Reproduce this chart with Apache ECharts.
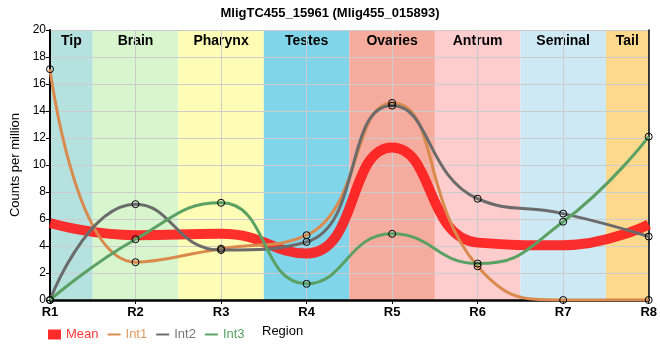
<!DOCTYPE html>
<html><head><meta charset="utf-8">
<script src="https://cdn.jsdelivr.net/npm/echarts@6/dist/echarts.min.js"></script>
<style>html,body{margin:0;padding:0;background:#fff}#c{width:660px;height:360px}</style>
</head><body><div id="c"></div>
<script>
const regions = ['R1','R2','R3','R4','R5','R6','R7','R8'];
const bandNames = ['Tip','Brain','Pharynx','Testes','Ovaries','Antrum','Seminal','Tail'];
const bandColors = ['#b5e2df','#d7f6cd','#fdfdb5','#80d5eb','#f5ac9f','#fdcccd','#cdeaf4','#fdd98d'];
const meanVals = [5.7, 4.8, 4.9, 3.45, 11.3, 4.25, 4.05, 5.6];
const int1Vals = [17.1, 2.8, 3.8, 4.8, 14.6, 2.5, 0, 0];
const int2Vals = [0, 7.1, 3.7, 4.3, 14.4, 7.5, 6.4, 4.7];
const int3Vals = [0, 4.5, 7.2, 1.2, 4.9, 2.7, 5.8, 12.1];
const yTicks = [0,2,4,6,8,10,12,14,16,18,20];

const SANS = "'Liberation Sans', Arial, sans-serif";
const toPts = a => a.map((v,i)=>[i,v]);
const last = regions.length - 1;

const bands = bandNames.map((n,i)=>[
  {name:n, xAxis: Math.max(0,i-0.5), itemStyle:{color:bandColors[i]}},
  {xAxis: Math.min(last,i+0.5)}
]);

const marker = {color:'rgba(255,255,255,0)', borderColor:'#000', borderWidth:1};
const lineIcon = 'path://M0,0 L0,0 M0,4 L20,4 L20,7 L0,7 Z M20,11 L20,11';
const legIcon = c => ({color:c, borderColor:c, borderWidth:0});

const chart = echarts.init(document.getElementById('c'));
chart.setOption({
  animation:false,
  title:{text:'MligTC455_15961 (Mlig455_015893)', left:'center', top:2,
    textStyle:{fontFamily:SANS, fontSize:13, fontWeight:'bold', color:'#000'}},
  grid:{left:50, right:10, top:30, bottom:60},
  legend:{left:43, top:323, itemWidth:13, itemHeight:10, itemGap:9,
    textStyle:{fontFamily:SANS, fontSize:13},
    data:[
      {name:'Mean', icon:'rect', itemStyle:legIcon('#ff2a2a'), textStyle:{color:'#ff3b3b'}},
      {name:'Int1', icon:lineIcon, itemStyle:legIcon('#d98a4c'), textStyle:{color:'#e09a62'}},
      {name:'Int2', icon:lineIcon, itemStyle:legIcon('#6b6b6b'), textStyle:{color:'#777'}},
      {name:'Int3', icon:lineIcon, itemStyle:legIcon('#5aa163'), textStyle:{color:'#5aa163'}}
    ]},
  graphic:[{type:'text', left:262, top:325, style:{text:'Region', fontFamily:SANS, fontSize:13, fill:'#000'}}],
  xAxis:{type:'value', min:0, max:last, interval:1, z:2,
    axisLine:{lineStyle:{color:'#000', width:2.5}},
    axisTick:{show:true, length:4, lineStyle:{color:'#000'}},
    axisLabel:{formatter:v=>regions[v], fontFamily:SANS, fontWeight:'bold', fontSize:13, color:'#000', margin:6,
      showMinLabel:true, showMaxLabel:true},
    splitLine:{show:true, lineStyle:{color:'#cccccc', width:1}}},
  yAxis:[{type:'value', min:yTicks[0], max:yTicks[yTicks.length-1], interval:2, z:2,
    name:'Counts per million', nameLocation:'middle', nameGap:21,
    nameTextStyle:{fontFamily:SANS, fontSize:13, color:'#000'},
    axisLine:{show:true, lineStyle:{color:'#000', width:2}},
    axisTick:{show:true, length:4, lineStyle:{color:'#000'}},
    axisLabel:{fontFamily:SANS, fontSize:12, color:'#000', margin:4},
    splitLine:{show:true, lineStyle:{color:'#cccccc', width:1}}},
   {type:'value', position:'right', min:0, max:20, z:2,
    axisLine:{show:true, lineStyle:{color:'#000', width:1.5}},
    axisTick:{show:false}, axisLabel:{show:false}, splitLine:{show:false}}],
  series:[
    {name:'Mean', type:'line', z:3, data:toPts(meanVals), smooth:0.5, showSymbol:false, symbol:'none',
      lineStyle:{color:'#ff1a1a', width:10, opacity:0.9}, itemStyle:{color:'#ff2a2a'},
      markArea:{silent:true, z:1, data:bands,
        label:{show:true, position:'insideTop', distance:4, fontFamily:SANS, fontWeight:'bold', fontSize:14, color:'#000'}}},
    {name:'Int1', type:'line', z:4, data:toPts(int1Vals), smooth:0.5, symbol:'circle', symbolSize:7,
      lineStyle:{color:'#d98a4c', width:3}, itemStyle:marker},
    {name:'Int2', type:'line', z:4, data:toPts(int2Vals), smooth:0.5, symbol:'circle', symbolSize:7,
      lineStyle:{color:'#6b6b6b', width:3}, itemStyle:marker},
    {name:'Int3', type:'line', z:4, data:toPts(int3Vals), smooth:0.5, symbol:'circle', symbolSize:7,
      lineStyle:{color:'#5aa163', width:3}, itemStyle:marker}
  ]
});
</script></body></html>
